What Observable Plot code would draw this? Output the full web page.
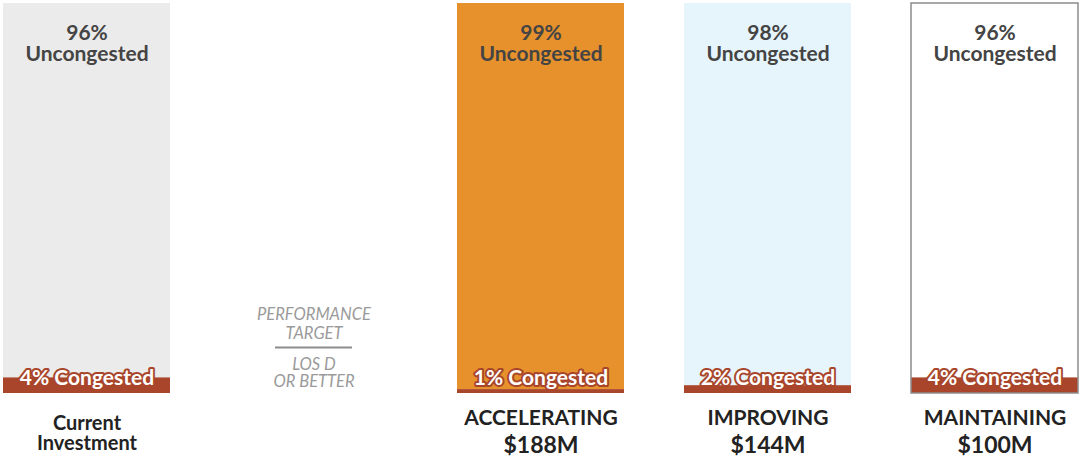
<!DOCTYPE html>
<html><head><meta charset="utf-8">
<script src="https://cdn.jsdelivr.net/npm/d3@7"></script>
<script src="https://cdn.jsdelivr.net/npm/@observablehq/plot@0.6"></script>
<style>
body{margin:0;background:#fff;}
#chart svg{display:block;}
</style>
</head><body><div id="chart"></div>
<script>
const slots = ["Current Investment", "TARGET", "ACCELERATING", "IMPROVING", "MAINTAINING"];
const bars = ["Current Investment", "ACCELERATING", "IMPROVING", "MAINTAINING"];
const uncongested = [96, 99, 98, 96];
const congested = [4, 1, 2, 4];
const names = ["Current\nInvestment", "ACCELERATING", "IMPROVING", "MAINTAINING"];
const amounts = ["", "$188M", "$144M", "$100M"];
const targetTop = "PERFORMANCE\nTARGET";
const targetBottom = "LOS D\nOR BETTER";
const barColors = ["#ebebeb", "#e6912c", "#e6f4fc", "#ffffff"];

const data = bars.map((b, i) => ({bar: b, unc: uncongested[i], con: congested[i], name: names[i], amount: amounts[i]}));
const target = [{slot: "TARGET"}];
const rust = "#a8452a";

const chart = Plot.plot({
  width: 1081,
  height: 461,
  marginTop: 3,
  marginBottom: 68,
  marginLeft: 0,
  marginRight: 0,
  style: {fontFamily: "Lato, sans-serif", background: "#fff"},
  x: {domain: slots, range: [1, 1081], paddingInner: 0.263, paddingOuter: 0, axis: null},
  y: {domain: [0, 100], axis: null},
  color: {domain: bars, range: barColors},
  marks: [
    Plot.rectY(data, {x: "bar", y1: "con", y2: d => d.con + d.unc, fill: "bar"}),
    Plot.rectY(data, {x: "bar", y1: 0, y2: "con", fill: rust}),
    Plot.rectY(data.filter(d => d.bar === "MAINTAINING"), {x: "bar", y1: 0, y2: d => d.con + d.unc, fill: "none", stroke: "#8c8c8c", strokeWidth: 1.5}),
    Plot.text(data, {x: "bar", y: d => d.con + d.unc, text: d => `${d.unc}%\nUncongested`, lineAnchor: "top", dy: 21, lineHeight: 1.02, fontSize: 21, fontWeight: 700, fill: "#444", ariaLabel: "unc"}),
    Plot.text(data, {x: "bar", y: 0, text: d => `${d.con}% Congested`, dy: -15, fontSize: 21, fontWeight: 700, fill: "white", stroke: rust, strokeWidth: 4, strokeLinejoin: "round", ariaLabel: "con"}),
    Plot.text(data.filter(d => d.amount === ""), {x: "bar", y: 0, text: "name", lineAnchor: "top", dy: 22, lineHeight: 1, fontSize: 20, fontWeight: 700, fill: "#222", ariaLabel: "current"}),
    Plot.text(data.filter(d => d.amount !== ""), {x: "bar", y: 0, text: "name", lineAnchor: "top", dy: 17, fontSize: 21, fontWeight: 700, fill: "#222", ariaLabel: "names"}),
    Plot.text(data.filter(d => d.amount !== ""), {x: "bar", y: 0, text: "amount", lineAnchor: "top", dy: 43, fontSize: 23, fontWeight: 700, fill: "#222", ariaLabel: "amounts"}),
    Plot.text(target, {x: "slot", y: 0, text: () => targetTop, lineAnchor: "top", dy: -86, lineHeight: 1.1, fontSize: 16.5, fontStyle: "italic", fill: "#9a9a9a", ariaLabel: "target"}),
    Plot.tickY(target, {x: "slot", y: 0, dy: -46, insetLeft: 45, insetRight: 45, stroke: "#8c8c8c", strokeWidth: 2}),
    Plot.text(target, {x: "slot", y: 0, text: () => targetBottom, lineAnchor: "top", dy: -35, lineHeight: 1, fontSize: 16.5, fontStyle: "italic", fill: "#9a9a9a", ariaLabel: "target"})
  ]
});
const ls = {target: "1.5px", names: "1.3px", current: "1px", amounts: "1px", unc: "0.7px", con: "1.1px"};
for (const [k, v] of Object.entries(ls)) {
  d3.select(chart).selectAll(`g[aria-label="${k}"] text`).style("letter-spacing", v);
}
document.getElementById("chart").appendChild(chart);
</script>
</body></html>
